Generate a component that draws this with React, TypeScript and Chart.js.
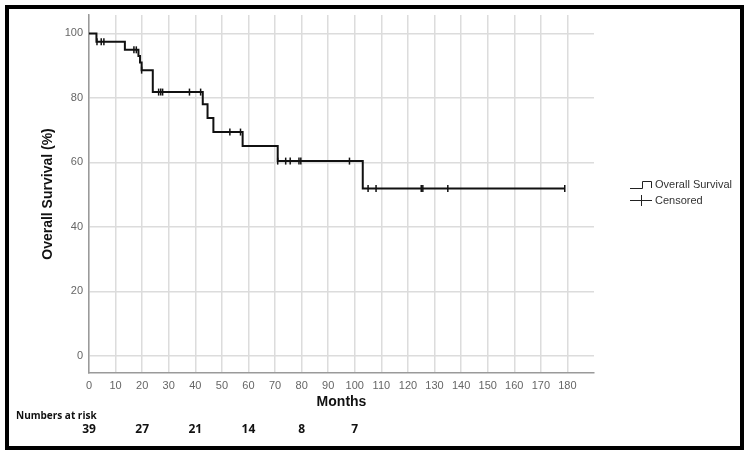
import React, { useEffect, useRef } from "react";
import { Chart, registerables } from "chart.js";

Chart.register(...registerables);

// Kaplan–Meier step function (month at which survival drops, survival % after drop)
const stepMonths = [0, 2.8, 13.5, 18.6, 19.2, 19.8, 24, 42.8, 44.6, 46.8, 57.8, 71, 103, 179];
const stepSurvival = [100, 97.4, 94.9, 93.0, 91.0, 88.6, 81.8, 78.0, 73.8, 69.4, 65.1, 60.4, 51.9, 51.9];

// Censored observations
const censorMonths = [3.0, 4.6, 5.6, 16.9, 17.8, 19.8, 26.2, 27, 27.7, 37.8, 42, 53, 57, 71, 74, 75.7, 79, 79.7, 98, 105, 108, 125, 125.6, 135, 179];
const censorSurvival = [97.4, 97.4, 97.4, 94.9, 94.9, 88.6, 81.8, 81.8, 81.8, 81.8, 81.8, 69.4, 69.4, 60.4, 60.4, 60.4, 60.4, 60.4, 60.4, 51.9, 51.9, 51.9, 51.9, 51.9, 51.9];

const xTicks = [0, 10, 20, 30, 40, 50, 60, 70, 80, 90, 100, 110, 120, 130, 140, 150, 160, 170, 180];
const yTicks = [0, 20, 40, 60, 80, 100];

const riskMonths = [0, 20, 40, 60, 80, 100];
const riskCounts = [39, 27, 21, 14, 8, 7];

const legendLabels = ["Overall Survival", "Censored"];

const TICK_FONT = { family: "'Liberation Sans', Arial, sans-serif", size: 11 };
const TITLE_FONT = { family: "'Liberation Sans', Arial, sans-serif", size: 14, weight: "bold" as const };

const extrasPlugin = {
  id: "extras",
  afterDraw(chart: any) {
    const { ctx } = chart;
    const x = chart.scales.x;
    ctx.save();
    // outer frame
    ctx.strokeStyle = "#000";
    ctx.lineWidth = 4;
    ctx.strokeRect(7, 7, 735, 441);

    // numbers at risk
    ctx.fillStyle = "#111";
    ctx.font = "bold 10px 'Open Sans', sans-serif";
    ctx.textAlign = "left";
    ctx.textBaseline = "middle";
    ctx.fillText("Numbers at risk", 16, 416);
    ctx.font = "bold 12px 'Open Sans', sans-serif";
    ctx.textAlign = "center";
    riskMonths.forEach((m, i) => {
      ctx.fillText(String(riskCounts[i]), x.getPixelForValue(m), 430);
    });

    // legend
    ctx.strokeStyle = "#222";
    ctx.lineWidth = 1;
    ctx.beginPath();
    ctx.moveTo(630, 188.5);
    ctx.lineTo(642.5, 188.5);
    ctx.lineTo(642.5, 181.5);
    ctx.lineTo(651.5, 181.5);
    ctx.lineTo(651.5, 188);
    ctx.stroke();

    ctx.beginPath();
    ctx.moveTo(630, 200.5);
    ctx.lineTo(652, 200.5);
    ctx.moveTo(641.5, 195);
    ctx.lineTo(641.5, 206);
    ctx.stroke();

    ctx.fillStyle = "#333";
    ctx.font = "11px 'Liberation Sans', Arial, sans-serif";
    ctx.textAlign = "left";
    ctx.textBaseline = "middle";
    ctx.fillText(legendLabels[0], 655, 185);
    ctx.fillText(legendLabels[1], 655, 201);
    ctx.restore();
  },
};

export default function App() {
  const canvasRef = useRef<HTMLCanvasElement | null>(null);

  useEffect(() => {
    if (!canvasRef.current) return;
    const survivalData = stepMonths.map((m, i) => ({ x: m, y: stepSurvival[i] }));
    const censorData = censorMonths.map((m, i) => ({ x: m, y: censorSurvival[i] }));

    const chart = new Chart(canvasRef.current, {
      type: "line",
      data: {
        datasets: [
          {
            label: legendLabels[0],
            data: survivalData,
            stepped: "before",
            borderColor: "#111",
            borderWidth: 2,
            pointRadius: 0,
            fill: false,
          },
          {
            label: legendLabels[1],
            data: censorData,
            showLine: false,
            pointStyle: "line",
            rotation: 90,
            pointRadius: 3.5,
            pointBorderWidth: 1.5,
            borderColor: "#111",
            backgroundColor: "#111",
          } as any,
        ],
      },
      options: {
        responsive: false,
        animation: false,
        events: [],
        layout: { padding: { left: 0, right: 154, top: 15, bottom: 0 } },
        plugins: {
          legend: { display: false },
          tooltip: { enabled: false },
        },
        scales: {
          x: {
            type: "linear",
            min: 0,
            max: 190,
            afterBuildTicks: (s: any) => {
              s.ticks = xTicks.map((v) => ({ value: v }));
            },
            afterFit: (s: any) => {
              s.height = 83;
            },
            ticks: {
              font: TICK_FONT,
              color: "#666",
              padding: 6,
              maxRotation: 0,
              autoSkip: false,
            },
            grid: { color: "#dcdcdc", lineWidth: 1.5, drawTicks: false },
            border: { color: "#9a9a9a", width: 1.5 },
            title: {
              display: true,
              text: "Months",
              font: TITLE_FONT,
              color: "#111",
              padding: { top: 0, bottom: 45 },
            },
          },
          y: {
            type: "linear",
            min: -5.3,
            max: 105.7,
            afterBuildTicks: (s: any) => {
              s.ticks = yTicks.map((v) => ({ value: v }));
            },
            afterFit: (s: any) => {
              s.width = 89;
            },
            ticks: {
              font: TICK_FONT,
              color: "#666",
              padding: 6,
            },
            grid: { color: "#dcdcdc", lineWidth: 1.5, drawTicks: false },
            border: { color: "#9a9a9a", width: 1.5 },
            title: {
              display: true,
              text: "Overall Survival (%)",
              font: TITLE_FONT,
              color: "#111",
              padding: { top: 40, bottom: 0 },
            },
          },
        },
      },
      plugins: [extrasPlugin],
    });
    return () => chart.destroy();
  }, []);

  return (
    <div style={{ position: "fixed", left: 0, top: 0, width: 748, height: 456, background: "#fff" }}>
      <canvas ref={canvasRef} width={748} height={456} />
    </div>
  );
}
